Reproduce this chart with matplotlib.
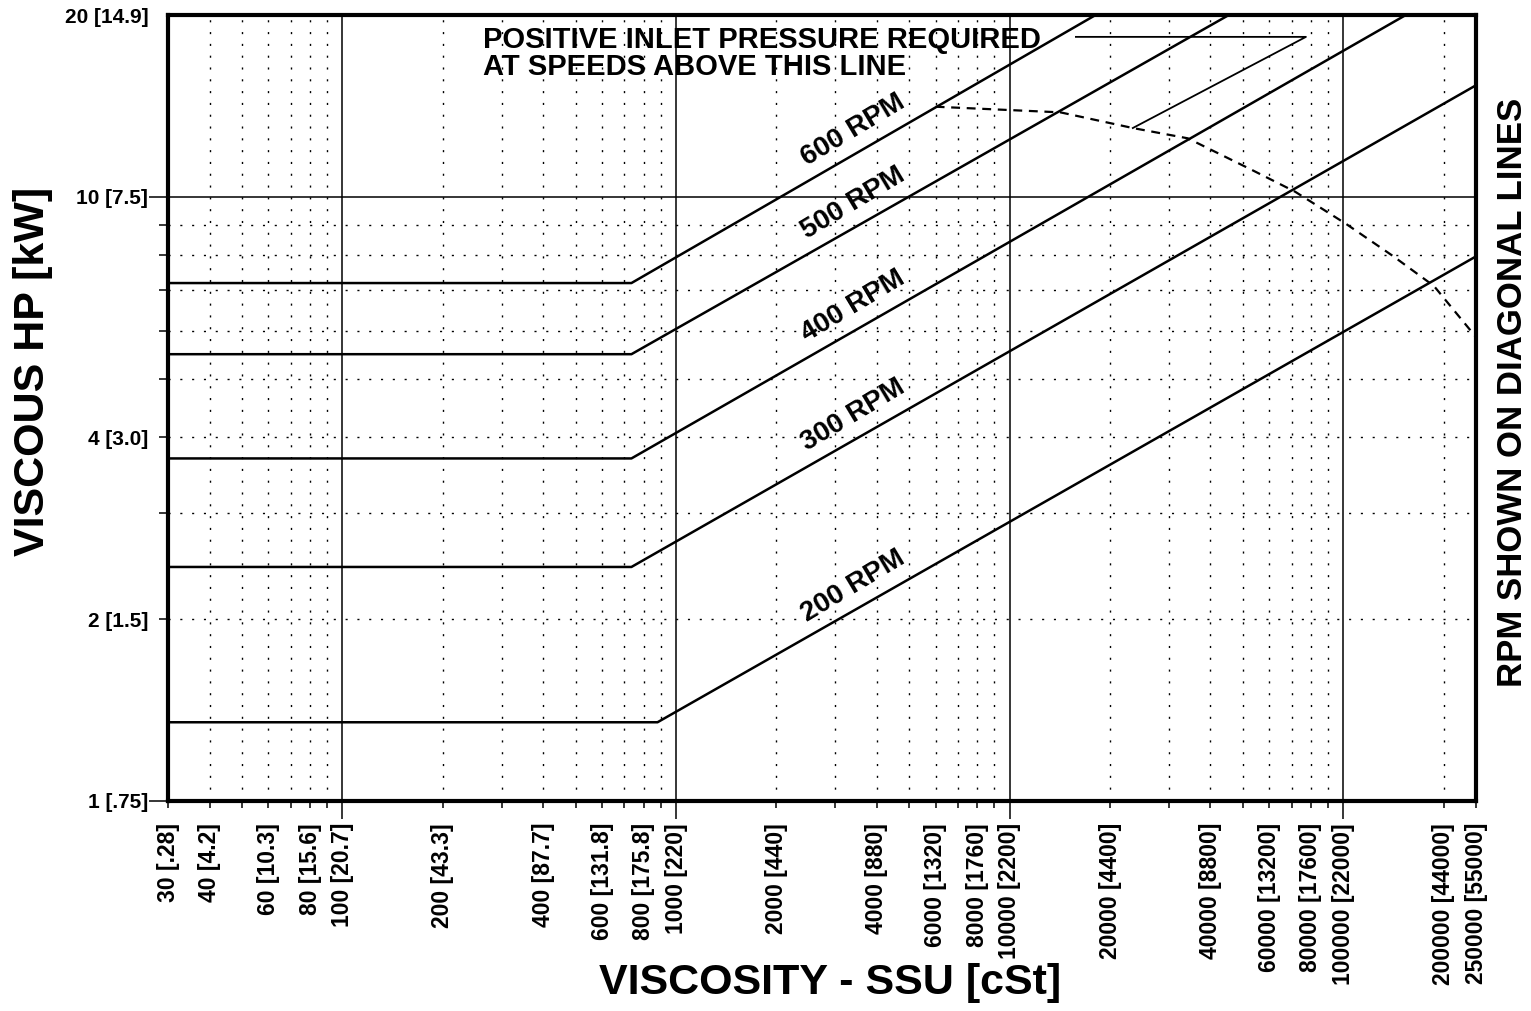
import numpy as np
import matplotlib.pyplot as plt
from matplotlib.ticker import FixedLocator, FuncFormatter

plt.rcParams['font.family'] = ['Liberation Sans', 'DejaVu Sans']
plt.rcParams['font.weight'] = 'bold'

# viscosity axis (SSU with cSt in brackets)
ssu_major = [100, 1000, 10000, 100000]
ssu_minor = [30, 40, 50, 60, 70, 80, 90,
             200, 300, 400, 500, 600, 700, 800, 900,
             2000, 3000, 4000, 5000, 6000, 7000, 8000, 9000,
             20000, 30000, 40000, 50000, 60000, 70000, 80000, 90000,
             200000, 250000]
ssu_lab_vals = [30, 40, 60, 80, 100, 200, 400, 600, 800, 1000, 2000, 4000, 6000, 8000,
                10000, 20000, 40000, 60000, 80000, 100000, 200000, 250000]
cst_lab = ['.28', '4.2', '10.3', '15.6', '20.7', '43.3', '87.7', '131.8', '175.8', '220',
           '440', '880', '1320', '1760', '2200', '4400', '8800', '13200', '17600', '22000',
           '44000', '55000']

# viscous HP axis (kW in brackets)
hp_major = [1, 10]
hp_minor = [2, 3, 4, 5, 6, 7, 8, 9, 20]
hp_lab_vals = [1, 2, 4, 10, 20]
kw_lab = ['.75', '1.5', '3.0', '7.5', '14.9']

# speed lines: flat part, knee, end of diagonal
rpm = [600, 500, 400, 300, 200]
hp_flat = [7.2, 5.49, 3.69, 2.44, 1.35]
ssu_knee = [735, 735, 735, 735, 880]
ssu_end = [18100, 45400, 154000, 250000, 250000]
hp_end = [20, 20, 20, 15.3, 7.97]

# positive inlet pressure limit (dashed)
pir_ssu = [6000, 14200, 23400, 34200, 52900, 71700, 102000, 141000, 187000, 250000]
pir_hp = [14.1, 13.8, 13.0, 12.5, 11.1, 10.2, 9.02, 7.98, 7.12, 5.86]

# leader from the note to the dashed curve
lead_ssu = [15800, 77300, 23400]
lead_hp = [18.4, 18.4, 13.0]

fig = plt.figure(figsize=(15.31, 10.11), dpi=100)
ax = fig.add_axes([168/1531, 1-801/1011, 1308/1531, 786/1011])
ax.set_xscale('log')
ax.set_yscale('log')
ax.set_xlim(30, 250000)
ax.set_ylim(1, 20)

for i in range(len(rpm)):
    xs = [30, ssu_knee[i], ssu_end[i]]
    ys = [hp_flat[i], hp_flat[i], hp_end[i]]
    ax.plot(xs, ys, color='black', lw=1.8, solid_capstyle='butt')
    lx = 3400
    ly = 10**np.interp(np.log10(lx), np.log10(xs), np.log10(ys))
    ax.annotate('%d RPM' % rpm[i], xy=(lx, ly), xytext=(0, 18), textcoords='offset points',
                rotation=31, ha='center', va='center', fontsize=20, fontweight='bold')

ax.plot(pir_ssu, pir_hp, color='black', lw=1.6, linestyle=(0, (4, 3)))
ax.plot(lead_ssu, lead_hp, color='black', lw=1.3)
ax.text(0.241, 0.951, 'POSITIVE INLET PRESSURE REQUIRED\nAT SPEEDS ABOVE THIS LINE',
        transform=ax.transAxes, ha='left', va='center', fontsize=21, fontweight='bold',
        linespacing=0.95)

# ticks and labels
ssu_text = {v: '%d [%s]' % (v, c) for v, c in zip(ssu_lab_vals, cst_lab)}
hp_text = {v: '%d [%s]' % (v, c) for v, c in zip(hp_lab_vals, kw_lab)}
fx = FuncFormatter(lambda v, pos: ssu_text.get(int(round(v)), ''))
fy = FuncFormatter(lambda v, pos: hp_text.get(int(round(v)), ''))

ax.xaxis.set_major_locator(FixedLocator(ssu_major))
ax.xaxis.set_minor_locator(FixedLocator(ssu_minor))
ax.xaxis.set_major_formatter(fx)
ax.xaxis.set_minor_formatter(fx)
ax.yaxis.set_major_locator(FixedLocator(hp_major))
ax.yaxis.set_minor_locator(FixedLocator(hp_minor))
ax.yaxis.set_major_formatter(fy)
ax.yaxis.set_minor_formatter(fy)

ax.tick_params(axis='x', which='major', length=13, pad=2.8, width=1.1, labelsize=16.5, labelrotation=90)
ax.tick_params(axis='x', which='minor', length=5, pad=10.8, width=1.1, labelsize=16.5, labelrotation=90)
ax.tick_params(axis='y', which='major', length=13.7, pad=0.5, width=1.1, labelsize=15)
ax.tick_params(axis='y', which='minor', length=6.5, pad=7.5, width=1.1, labelsize=15)
for lab in ax.get_xticklabels(which='both') + ax.get_yticklabels(which='both'):
    lab.set_fontweight('bold')

ymin_ticks = ax.yaxis.get_minor_ticks(len(hp_minor))
ymin_ticks[-1].tick1line.set_markersize(0)

ax.grid(which='major', color='black', lw=1.1, linestyle='-')
ax.grid(which='minor', color='black', lw=1.0, linestyle=(0, (1.5, 7)))

for s in ax.spines.values():
    s.set_linewidth(3)

fig.text(830/1531, 1-983/1011, 'VISCOSITY - SSU [cSt]', ha='center', va='center',
         fontsize=31, fontweight='bold')
fig.text(33/1531, 1-371/1011, 'VISCOUS HP [kW]', ha='center', va='center', rotation=90,
         fontsize=31, fontweight='bold')
fig.text(1512/1531, 1-392/1011, 'RPM SHOWN ON DIAGONAL LINES', ha='center', va='center',
         rotation=90, fontsize=25, fontweight='bold')

fig.savefig('out.png', dpi=100)
